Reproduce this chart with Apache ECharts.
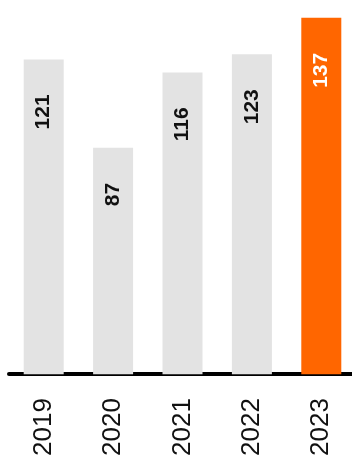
<!DOCTYPE html>
<html>
<head>
<meta charset="utf-8">
<script src="https://cdn.jsdelivr.net/npm/echarts@6/dist/echarts.min.js"></script>
<style>
	html, body { margin: 0; padding: 0; background: #fff; overflow: hidden; }
	/* a bit wider than the window so the last bar lands where the reference has it */
	#chart { width: 356px; height: 459px; }
</style>
</head>
<body>
<div id="chart"></div>
<script>
const years = ['2019', '2020', '2021', '2022', '2023'];
const values = [121, 87, 116, 123, 137];
const highlightYear = '2023';

const chart = echarts.init(document.getElementById('chart'));

const option = {
	animation: false,
	grid: {
		left: 9,
		right: 0,
		top: 10,
		bottom: 82,
		containLabel: false,
	},
	xAxis: {
		type: 'category',
		data: years,
		axisLine: {
			lineStyle: { color: '#000', width: 4 },
		},
		axisTick: { show: false },
		axisLabel: {
			rotate: 90,
			margin: 24,
			color: '#111',
			fontSize: 26,
			fontFamily: 'Liberation Sans',
		},
	},
	yAxis: {
		type: 'value',
		min: 0,
		max: 140,
		show: false,
		splitLine: { show: false },
	},
	series: [
		{
			type: 'bar',
			barWidth: 40,
			data: values.map((v, i) => {
				const hi = years[i] === highlightYear;
				return {
					value: v,
					itemStyle: { color: hi ? '#ff6600' : '#e3e3e3' },
					label: { color: hi ? '#fff' : '#111' },
				};
			}),
			label: {
				show: true,
				position: ['50%', 35],
				rotate: 90,
				align: 'right',
				verticalAlign: 'middle',
				fontSize: 21,
				fontWeight: 'bold',
				fontFamily: 'Liberation Sans',
			},
		},
	],
};

chart.setOption(option);
</script>
</body>
</html>
